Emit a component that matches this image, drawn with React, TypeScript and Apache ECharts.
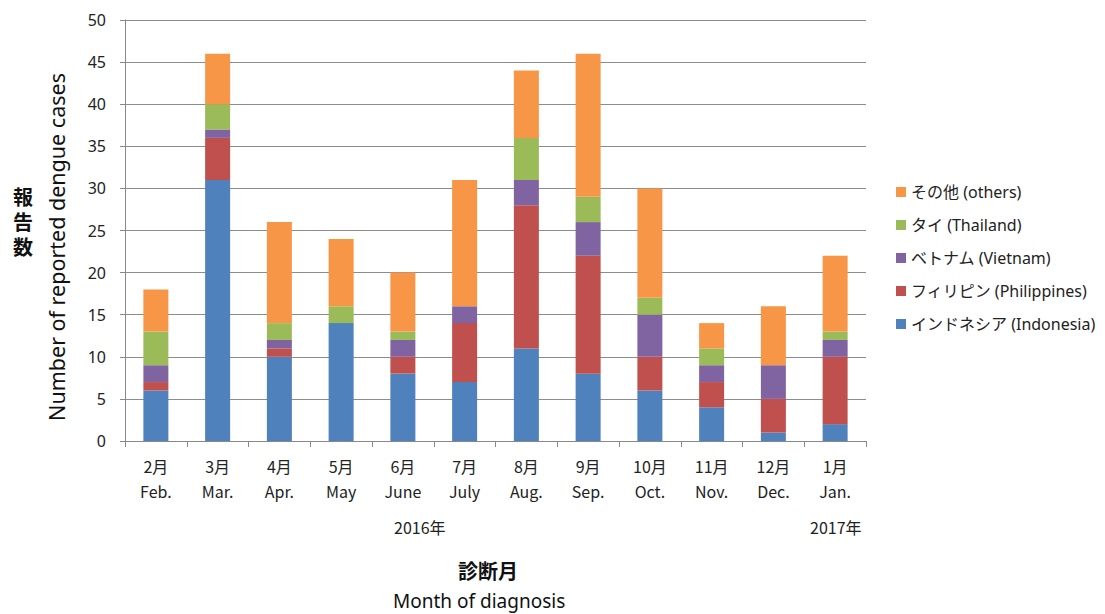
import React, { useEffect, useRef } from "react";
import * as echarts from "echarts";

const months = ["2月\nFeb.", "3月\nMar.", "4月\nApr.", "5月\nMay", "6月\nJune", "7月\nJuly", "8月\nAug.", "9月\nSep.", "10月\nOct.", "11月\nNov.", "12月\nDec.", "1月\nJan."];
const indonesia = [6, 31, 10, 14, 8, 7, 11, 8, 6, 4, 1, 2];
const philippines = [1, 5, 1, 0, 2, 7, 17, 14, 4, 3, 4, 8];
const vietnam = [2, 1, 1, 0, 2, 2, 3, 4, 5, 2, 4, 2];
const thailand = [4, 3, 2, 2, 1, 0, 5, 3, 2, 2, 0, 1];
const others = [5, 6, 12, 8, 7, 15, 8, 17, 13, 3, 7, 9];

const seriesNames = ["インドネシア (Indonesia)", "フィリピン (Philippines)", "ベトナム (Vietnam)", "タイ (Thailand)", "その他 (others)"];
const colors = ["#4F81BD", "#C0504D", "#8064A2", "#9BBB59", "#F79646"];
const yTicks = { min: 0, max: 50, interval: 5 };
const yTitleChars = ["報", "告", "数"];

const FONT = "'Liberation Sans Narrow', 'Noto Sans CJK JP', sans-serif";
const FONT2 = "'Noto Sans', 'Noto Sans CJK JP', sans-serif";

export default function App() {
  const ref = useRef<HTMLDivElement>(null);
  useEffect(() => {
    if (!ref.current) return;
    const chart = echarts.init(ref.current, null, { renderer: "svg" });
    const data = [indonesia, philippines, vietnam, thailand, others];
    chart.setOption({
      animation: false,
      backgroundColor: "#ffffff",
      grid: { left: 125, right: 239, top: 20, bottom: 173, containLabel: false },
      legend: {
        orient: "vertical",
        left: 891,
        top: 179,
        itemWidth: 10,
        itemHeight: 10,
        itemGap: 17,
        icon: "rect",
        data: [...seriesNames].reverse(),
        textStyle: { fontFamily: FONT2, fontSize: 16, color: "#222" },
      },
      xAxis: {
        type: "category",
        data: months,
        axisLine: { show: true, lineStyle: { color: "#888", width: 1 } },
        axisTick: { show: true, alignWithLabel: false, length: 6, lineStyle: { color: "#888" } },
        axisLabel: { fontFamily: FONT, fontSize: 16, color: "#222", lineHeight: 25, margin: 12 },
      },
      yAxis: {
        type: "value",
        min: yTicks.min,
        max: yTicks.max,
        interval: yTicks.interval,
        axisLine: { show: true, lineStyle: { color: "#888", width: 1 } },
        axisTick: { show: true, length: 5, lineStyle: { color: "#888" } },
        splitLine: { show: true, lineStyle: { color: "#8c8c8c", width: 1 } },
        axisLabel: { fontFamily: FONT2, fontSize: 16, color: "#222", margin: 19 },
      },
      series: seriesNames.map((name, i) => ({
        name,
        type: "bar",
        stack: "total",
        barWidth: 25,
        data: data[i],
        itemStyle: { color: colors[i] },
      })),
      graphic: [
        { type: "text", left: 394, top: 519, style: { text: "2016年", fontFamily: FONT, fontSize: 16, fill: "#222" } },
        { type: "text", left: 810, top: 519, style: { text: "2017年", fontFamily: FONT, fontSize: 16, fill: "#222" } },
        { type: "text", left: 458, top: 561, style: { text: "診断月", fontFamily: FONT2, fontSize: 20, fontWeight: "bold", fill: "#111" } },
        { type: "text", left: 393, top: 591, style: { text: "Month of diagnosis", fontFamily: FONT2, fontSize: 19, fill: "#111" } },
        ...yTitleChars.map((c, i) => ({
          type: "text",
          left: 13,
          top: 187 + i * 25,
          style: { text: c, fontFamily: FONT2, fontSize: 20, fontWeight: "bold", fill: "#111" },
        })),
        {
          type: "text",
          x: 56,
          y: 247,
          rotation: Math.PI / 2,
          style: { text: "Number of reported dengue cases", fontFamily: FONT2, fontSize: 21.5, fill: "#111", align: "center", verticalAlign: "middle" },
        },
      ],
    });
    return () => chart.dispose();
  }, []);
  return <div ref={ref} style={{ position: "absolute", left: 0, top: 0, width: 1105, height: 614 }} />;
}
